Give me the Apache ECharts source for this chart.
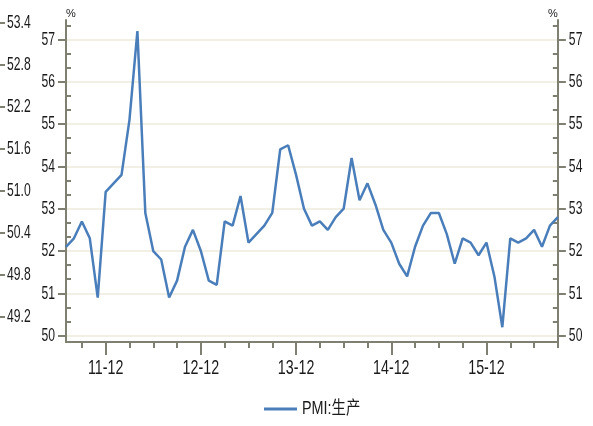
<!DOCTYPE html>
<html>
<head>
<meta charset="utf-8">
<script src="https://cdn.jsdelivr.net/npm/echarts@6/dist/echarts.min.js"></script>
<style>
  html, body { margin: 0; padding: 0; background: #ffffff; }
  #chart { width: 593px; height: 426px; }
</style>
</head>
<body>
<div id="chart"></div>
<script>
// Monthly categories, 2011-07 .. 2016-09
const months = [
  '11-07','11-08','11-09','11-10','11-11','11-12',
  '12-01','12-02','12-03','12-04','12-05','12-06','12-07','12-08','12-09','12-10','12-11','12-12',
  '13-01','13-02','13-03','13-04','13-05','13-06','13-07','13-08','13-09','13-10','13-11','13-12',
  '14-01','14-02','14-03','14-04','14-05','14-06','14-07','14-08','14-09','14-10','14-11','14-12',
  '15-01','15-02','15-03','15-04','15-05','15-06','15-07','15-08','15-09','15-10','15-11','15-12',
  '16-01','16-02','16-03','16-04','16-05','16-06','16-07','16-08','16-09'
];

// PMI production sub-index (%)
const pmiProduction = [
  52.1, 52.3, 52.7, 52.3, 50.9, 53.4, 53.6, 53.8, 55.1, 57.2,
  52.9, 52.0, 51.8, 50.9, 51.3, 52.1, 52.5, 52.0, 51.3, 51.2,
  52.7, 52.6, 53.3, 52.2, 52.4, 52.6, 52.9, 54.4, 54.5, 53.8,
  53.0, 52.6, 52.7, 52.5, 52.8, 53.0, 54.2, 53.2, 53.6, 53.1,
  52.5, 52.2, 51.7, 51.4, 52.1, 52.6, 52.9, 52.9, 52.4, 51.7,
  52.3, 52.2, 51.9, 52.2, 51.4, 50.2, 52.3, 52.2, 52.3, 52.5,
  52.1, 52.6, 52.8
];

// Tick labels
const yTicks = [50, 51, 52, 53, 54, 55, 56, 57];
const outerTicks = [49.2, 49.8, 50.4, 51.0, 51.6, 52.2, 52.8, 53.4];

const seriesName = 'PMI:生产';

// Minor ticks: thirds between the labelled values, plus one above the top
const yMinor = [];
for (let i = 0; i < yTicks.length; i++) {
  const base = yTicks[i];
  if (i < yTicks.length - 1) { yMinor.push(base + 1 / 3, base + 2 / 3); }
  else { yMinor.push(base + 1 / 3); }
}

const AXIS = '#7f7f72';
const GRID = '#eeeadb';
const TEXT = '#1a1a1a';
const LINE = '#4a7ebb';
const FONT = "'Liberation Sans', 'Noto Sans CJK SC', sans-serif";

const yMin = 49.85, yMax = 57.46;

const chart = echarts.init(document.getElementById('chart'), null, { renderer: 'canvas' });

const minorAxis = (pos) => ({
  type: 'value', position: pos, min: yMin, max: yMax,
  axisLine: { show: false },
  axisLabel: { show: false },
  splitLine: { show: false },
  axisTick: { show: true, inside: true, length: 5, customValues: yMinor,
              lineStyle: { color: AXIS, width: 2 } }
});

const mainAxis = (pos, withGrid) => ({
  type: 'value', position: pos, min: yMin, max: yMax,
  name: '%', nameLocation: 'end', nameGap: 1,
  nameTextStyle: { fontFamily: FONT, fontSize: 11, color: TEXT,
                   align: pos === 'left' ? 'left' : 'right', verticalAlign: 'bottom' },
  axisLine: { show: true, lineStyle: { color: AXIS, width: 2 } },
  axisTick: { show: true, inside: false, length: 8, customValues: yTicks,
              lineStyle: { color: AXIS, width: 2 } },
  axisLabel: { show: true, margin: 11, customValues: yTicks,
               fontFamily: FONT, fontSize: 19, color: TEXT },
  splitLine: { show: withGrid, lineStyle: { color: GRID, width: 1.5 } }
});

chart.setOption({
  animation: false,
  textStyle: { fontFamily: FONT },
  grid: { left: 66, right: 34, top: 20, bottom: 84, containLabel: false },
  legend: {
    data: [seriesName],
    left: 264, top: 400, padding: 0,
    icon: 'rect', itemWidth: 33, itemHeight: 3,
    textStyle: { fontFamily: FONT, fontSize: 18, color: TEXT }
  },
  xAxis: [
    {
      type: 'category', data: months, boundaryGap: false, position: 'bottom',
      axisLine: { show: true, lineStyle: { color: AXIS, width: 2 } },
      axisTick: { show: true, length: 6, interval: (i) => i % 3 === 2,
                  lineStyle: { color: AXIS, width: 2 } },
      axisLabel: { show: false },
      splitLine: { show: false }
    },
    {
      type: 'category', data: months, boundaryGap: false, position: 'bottom',
      axisLine: { show: false },
      axisTick: { show: true, length: 13, interval: (i, v) => v.slice(3) === '12',
                  lineStyle: { color: AXIS, width: 2 } },
      axisLabel: { show: true, interval: (i, v) => v.slice(3) === '12', margin: 16,
                   fontFamily: FONT, fontSize: 21, color: TEXT },
      splitLine: { show: false }
    }
  ],
  yAxis: [
    mainAxis('left', true),
    mainAxis('right', false),
    minorAxis('left'),
    minorAxis('right'),
    {
      type: 'value', position: 'left', offset: 66, min: 48.84, max: 53.44,
      axisLine: { show: false },
      axisTick: { show: true, inside: true, length: 5, customValues: outerTicks,
                  lineStyle: { color: AXIS, width: 2 } },
      axisLabel: { show: true, inside: true, margin: 7, customValues: outerTicks,
                   formatter: (v) => v.toFixed(1),
                   fontFamily: FONT, fontSize: 19, color: TEXT },
      splitLine: { show: false }
    }
  ],
  series: [
    {
      name: seriesName, type: 'line', data: pmiProduction,
      xAxisIndex: 0, yAxisIndex: 0,
      symbol: 'none', smooth: false,
      lineStyle: { color: LINE, width: 2.5 },
      itemStyle: { color: LINE }
    }
  ]
});

// Condensed lettering: narrow every text horizontally about its own anchor
(function condenseTexts() {
  const zr = chart.getZr();
  const visit = (el) => {
    if (el.type === 'text' && el.style && typeof el.style.text === 'string') {
      const t = el.style.text;
      let s = 1;
      if (/[\u4e00-\u9fff]/.test(t)) s = 0.8;
      else if (/^\d\d-\d\d$/.test(t)) s = 0.68;
      else if (/^[\d.]+$/.test(t)) s = 0.64;
      if (s !== 1) {
        el.originX = el.style.x || 0;
        el.originY = el.style.y || 0;
        el.scaleX = s;
        el.markRedraw();
      }
    }
    if (typeof el.childrenRef === 'function') {
      const kids = el.childrenRef();
      if (kids) kids.forEach(visit);
    }
  };
  zr.storage.getRoots().forEach(visit);
  zr.refreshImmediately();
})();
</script>
</body>
</html>
